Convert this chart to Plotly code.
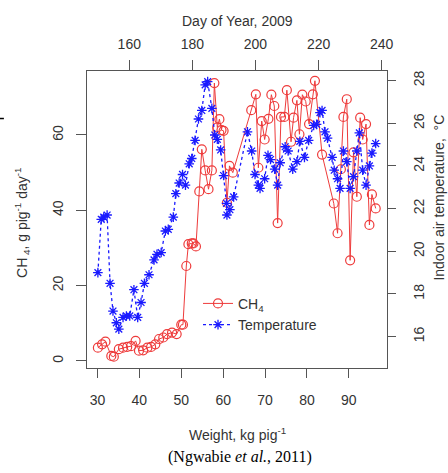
import plotly.graph_objects as go

# ---- data ----
weight_ch4 = [30.1, 31.1, 31.9, 33.3, 33.9, 35.1, 36.1, 37.1, 38.0, 39.1, 39.9, 40.9, 41.9, 42.8,
              43.8, 44.7, 45.7, 46.6, 47.8, 48.9, 50.0, 50.4, 51.2, 51.7, 52.5, 52.9, 53.5, 54.3,
              54.9, 55.7, 56.5, 57.3, 57.9, 58.6, 59.1, 59.6, 60.1, 60.9, 61.5, 62.3, 66.7, 67.8,
              68.4, 69.2, 69.9, 70.8, 71.5, 72.2, 73.0, 73.8, 74.6, 75.2, 76.2, 76.8, 77.6, 78.2,
              78.9, 79.7, 80.5, 81.4, 81.9, 83.6, 86.4, 87.3, 88.1, 88.7, 89.5, 90.3, 91.1, 91.9,
              92.7, 93.3, 94.1, 94.9, 95.5, 96.4]
ch4 = [3.5, 4.4, 5.1, 1.3, 1.1, 3.1, 3.5, 3.7, 3.9, 5.3, 2.7, 2.8, 3.5, 3.7,
       4.4, 5.8, 6.2, 7.1, 7.5, 7.1, 9.6, 9.6, 25.2, 31.0, 31.2, 31.2, 30.4, 45.0,
       56.2, 50.6, 45.6, 50.6, 73.8, 62.0, 64.2, 61.3, 61.1, 42.0, 51.8, 50.0, 66.6, 70.8,
       51.3, 63.7, 58.8, 64.3, 70.7, 67.7, 36.6, 64.8, 64.8, 71.9, 58.2, 64.6, 69.2, 60.2,
       70.7, 68.9, 62.9, 70.8, 74.4, 54.8, 41.8, 33.9, 50.9, 64.8, 69.5, 26.7, 55.4, 43.6,
       64.6, 58.8, 62.9, 36.1, 44.2, 40.5]

weight_temp = [30.1, 30.9, 31.5, 32.3, 33.0, 33.7, 34.5, 35.1, 36.1, 36.9, 37.7, 38.7, 39.6, 40.4,
               41.2, 42.3, 43.5, 44.2, 45.2, 46.2, 46.9, 48.1, 48.7, 49.5, 50.3, 51.0, 51.9, 52.5,
               53.3, 54.1, 54.9, 55.7, 56.3, 57.3, 58.0, 58.6, 59.4, 60.1, 60.8, 60.9, 61.6, 62.5,
               65.8, 66.8, 67.6, 68.4, 68.8, 69.9, 70.7, 71.3, 72.3, 73.0, 73.6, 74.8, 75.5, 76.6,
               77.6, 78.3, 79.4, 80.4, 81.6, 82.3, 83.1, 83.6, 84.3, 84.9, 86.0, 86.5, 87.3, 87.9,
               88.7, 89.5, 90.3, 91.1, 91.9, 92.5, 93.3, 94.1, 94.9, 95.5, 96.4]
temperature = [19.0, 21.5, 21.6, 21.7, 18.5, 17.2, 16.65, 16.35, 16.9, 16.97, 16.97, 18.2, 16.9, 17.6,
               18.5, 18.9, 19.6, 19.86, 19.94, 20.95, 21.03, 21.6, 22.7, 23.2, 23.6, 23.1, 24.1, 24.35,
               25.2, 26.2, 26.6, 27.8, 27.95, 26.7, 25.45, 25.25, 24.75, 23.55, 22.25, 21.7, 21.95, 22.55,
               25.6, 24.7, 23.6, 23.1, 22.95, 23.4, 24.5, 24.3, 23.85, 23.1, 24.15, 24.9, 24.7, 23.85,
               24.2, 25.15, 24.4, 25.2, 25.9, 25.95, 26.5, 26.6, 25.6, 25.3, 24.4, 23.8, 23.4, 22.95,
               24.7, 24.2, 22.95, 23.5, 24.7, 25.55, 23.8, 23.1, 24.0, 24.6, 25.05]

weight_ticks = [30, 40, 50, 60, 70, 80, 90]
day_ticks = [160, 180, 200, 220, 240]
ch4_ticks = [0, 20, 40, 60]
temp_ticks = [16, 18, 20, 22, 24, 26, 28]

RED = "#ee3b3b"
BLUE = "#1a1aff"
AXC = "#555555"
TXT = "#333333"
FONT = "Liberation Sans, Arial, sans-serif"

fig = go.Figure()
fig.add_trace(go.Scatter(
    x=weight_ch4, y=ch4, mode="lines+markers", name="CH<sub>4</sub>",
    line=dict(color=RED, width=1),
    marker=dict(symbol="circle-open", size=9, color=RED, line=dict(width=1.2, color=RED)),
))
fig.add_trace(go.Scatter(
    x=weight_temp, y=temperature, yaxis="y2", mode="lines+markers", name="Temperature",
    line=dict(color=BLUE, width=1.3, dash="3px,3px"),
    marker=dict(symbol="asterisk-open", size=8, color=BLUE, line=dict(width=1.3, color=BLUE)),
))
# carrier trace for the top (day of year) axis
fig.add_trace(go.Scatter(x=[day_ticks[0]], y=[None], xaxis="x2", mode="markers",
                         showlegend=False, hoverinfo="skip"))

axis_common = dict(showgrid=False, zeroline=False, showline=True, linecolor=AXC, linewidth=1,
                   ticks="outside", tickcolor=AXC, tickwidth=1, automargin=False,
                   tickfont=dict(family=FONT, size=14, color=TXT))

fig.update_layout(
    width=448, height=473, autosize=False,
    margin=dict(l=87, r=61, t=71, b=105),
    plot_bgcolor="white", paper_bgcolor="white",
    font=dict(family=FONT, size=14, color=TXT),
    xaxis=dict(range=[27.5, 99.1], tickvals=weight_ticks, ticklen=9, ticklabelstandoff=10,
               **axis_common),
    xaxis2=dict(range=[146.6, 241.7], tickvals=day_ticks, overlaying="x", side="top",
                ticklen=10, ticklabelstandoff=5, **axis_common),
    yaxis=dict(range=[-1.9, 77.0], tickvals=ch4_ticks, ticklen=10, tickangle=-90,
               ticklabelstandoff=7, **axis_common),
    yaxis2=dict(range=[14.53, 28.45], tickvals=temp_ticks, overlaying="y", side="right",
                ticklen=8, tickangle=-90, ticklabelstandoff=11, **axis_common),
    showlegend=True,
    legend=dict(x=0.37, y=0.27, xanchor="left", yanchor="top", bgcolor="rgba(0,0,0,0)",
                borderwidth=0, font=dict(family=FONT, size=14, color=TXT), tracegroupgap=0),
    annotations=[
        dict(text="Day of Year, 2009", xref="paper", yref="paper", x=0.5, y=1.168,
             showarrow=False, xanchor="center", yanchor="middle",
             font=dict(family=FONT, size=14, color=TXT)),
        dict(text="Weight, kg pig<sup>-1</sup>", xref="paper", yref="paper", x=0.5, y=-0.222,
             showarrow=False, xanchor="center", yanchor="middle",
             font=dict(family=FONT, size=14, color=TXT)),
        dict(text="(Ngwabie <i>et al.</i>, 2011)", xref="paper", yref="paper", x=0.51, y=-0.30,
             showarrow=False, xanchor="center", yanchor="middle",
             font=dict(family="Liberation Serif, Times New Roman, serif", size=16, color="black")),
        dict(text="CH<sub> 4</sub>, g pig<sup>-1</sup> day<sup>-1</sup>", xref="paper", yref="paper",
             x=-0.217, y=0.488, textangle=-90, showarrow=False, xanchor="center", yanchor="middle",
             font=dict(family=FONT, size=14, color=TXT)),
        dict(text="Indoor air temperature,  °C", xref="paper", yref="paper",
             x=1.175, y=0.572, textangle=-90, showarrow=False, xanchor="center", yanchor="middle",
             font=dict(family=FONT, size=14, color=TXT)),
    ],
    shapes=[dict(type="line", xref="paper", yref="paper", x0=-0.29, x1=-0.277, y0=0.84, y1=0.84,
                 line=dict(color="black", width=1.5))],
)

fig.write_html("out.html", config={"displayModeBar": False},
               post_script="document.body.style.margin='0';document.body.style.overflow='hidden';")
